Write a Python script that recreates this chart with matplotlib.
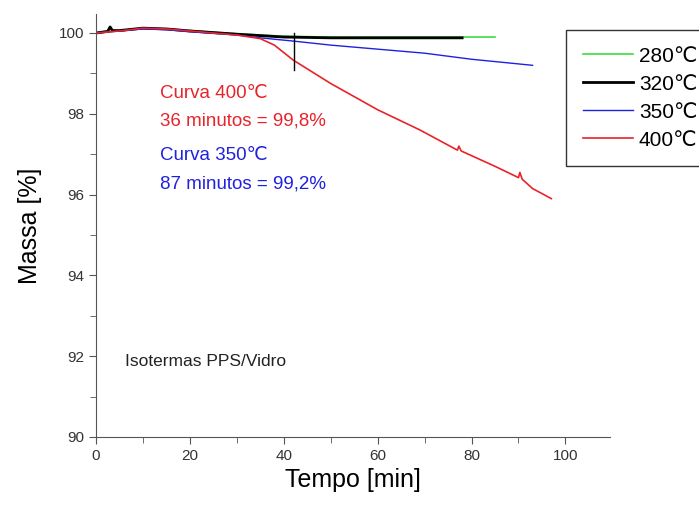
import matplotlib.pyplot as plt
import numpy as np

plt.rcParams['font.family'] = ['Liberation Sans', 'DejaVu Sans']

# curvas isotermicas (tempo [min], massa [%])
t280 = [0, 2, 5, 10, 15, 20, 30, 40, 50, 60, 70, 85]
m280 = [100.0, 100.02, 100.06, 100.12, 100.1, 100.06, 99.98, 99.92, 99.9, 99.9, 99.9, 99.9]

t320 = [0, 2.5, 3, 3.5, 5, 10, 15, 20, 30, 40, 50, 60, 78]
m320 = [100.0, 100.04, 100.15, 100.06, 100.06, 100.12, 100.1, 100.05, 99.97, 99.9, 99.88, 99.88, 99.88]

t350 = [0, 2, 5, 10, 15, 20, 30, 35, 42, 50, 60, 70, 80, 93]
m350 = [100.0, 100.02, 100.05, 100.1, 100.08, 100.03, 99.95, 99.88, 99.8, 99.7, 99.6, 99.5, 99.35, 99.2]

t400 = [0, 2, 5, 10, 15, 20, 30, 35, 38, 42, 50, 60, 69, 77, 77.3, 77.8, 85, 90, 90.3, 90.8, 93, 97]
m400 = [100.0, 100.02, 100.05, 100.12, 100.1, 100.05, 99.95, 99.86, 99.7, 99.33, 98.75, 98.1, 97.6, 97.1, 97.2, 97.08, 96.7, 96.42, 96.55, 96.38, 96.15, 95.9]

fig = plt.figure(figsize=(6.99, 5.07), dpi=100)
ax = fig.add_axes([96/699, 70/507, 514/699, 423/507])

ax.plot(t280, m280, color='#3ddc3d', lw=1.2, label='280\u2103')
ax.plot(t320, m320, color='black', lw=2.0, label='320\u2103')
ax.plot(t350, m350, color='#2020e0', lw=1.0, label='350\u2103')
ax.plot(t400, m400, color='#e8232a', lw=1.2, label='400\u2103')

# marcador vertical em 42 min
ax.plot([42.2, 42.2], [100.0, 99.08], color='black', lw=1.0)

ax.set_xlim(0, 109.5)
ax.set_ylim(90, 100.47)
ax.set_xticks([0, 20, 40, 60, 80, 100])
ax.set_xticks(np.arange(10, 110, 20), minor=True)
ax.set_yticks([90, 92, 94, 96, 98, 100])
ax.set_yticks([91, 93, 95, 97, 99], minor=True)
ax.spines['top'].set_visible(False)
ax.spines['right'].set_visible(False)
ax.spines['left'].set_color('#555555')
ax.spines['bottom'].set_color('#555555')
ax.tick_params(which='both', direction='out', color='#555555', labelsize=11, labelcolor='#333333')
ax.tick_params(which='major', length=5)
ax.tick_params(which='minor', length=4)

ax.set_xlabel('Tempo [min]', fontsize=18, labelpad=4)
ax.set_ylabel('Massa [%]', fontsize=18, labelpad=12)

ax.text(13.7, 98.4, 'Curva 400\u2103', color='#e8232a', fontsize=13.5)
ax.text(13.7, 97.7, '36 minutos = 99,8%', color='#e8232a', fontsize=13.5)
ax.text(13.7, 96.85, 'Curva 350\u2103', color='#2020e0', fontsize=13.5)
ax.text(13.7, 96.15, '87 minutos = 99,2%', color='#2020e0', fontsize=13.5)
ax.text(6.2, 91.75, 'Isotermas PPS/Vidro', color='#222222', fontsize=12.5)

fig.legend(loc='upper left', bbox_to_anchor=(566/699, 1 - 30/507), fontsize=15,
           handlelength=2.4, fancybox=False, edgecolor='#333333', framealpha=1,
           borderpad=0.8, borderaxespad=0, labelspacing=0.43, handletextpad=0.3)

fig.savefig('out.png', dpi=100)
